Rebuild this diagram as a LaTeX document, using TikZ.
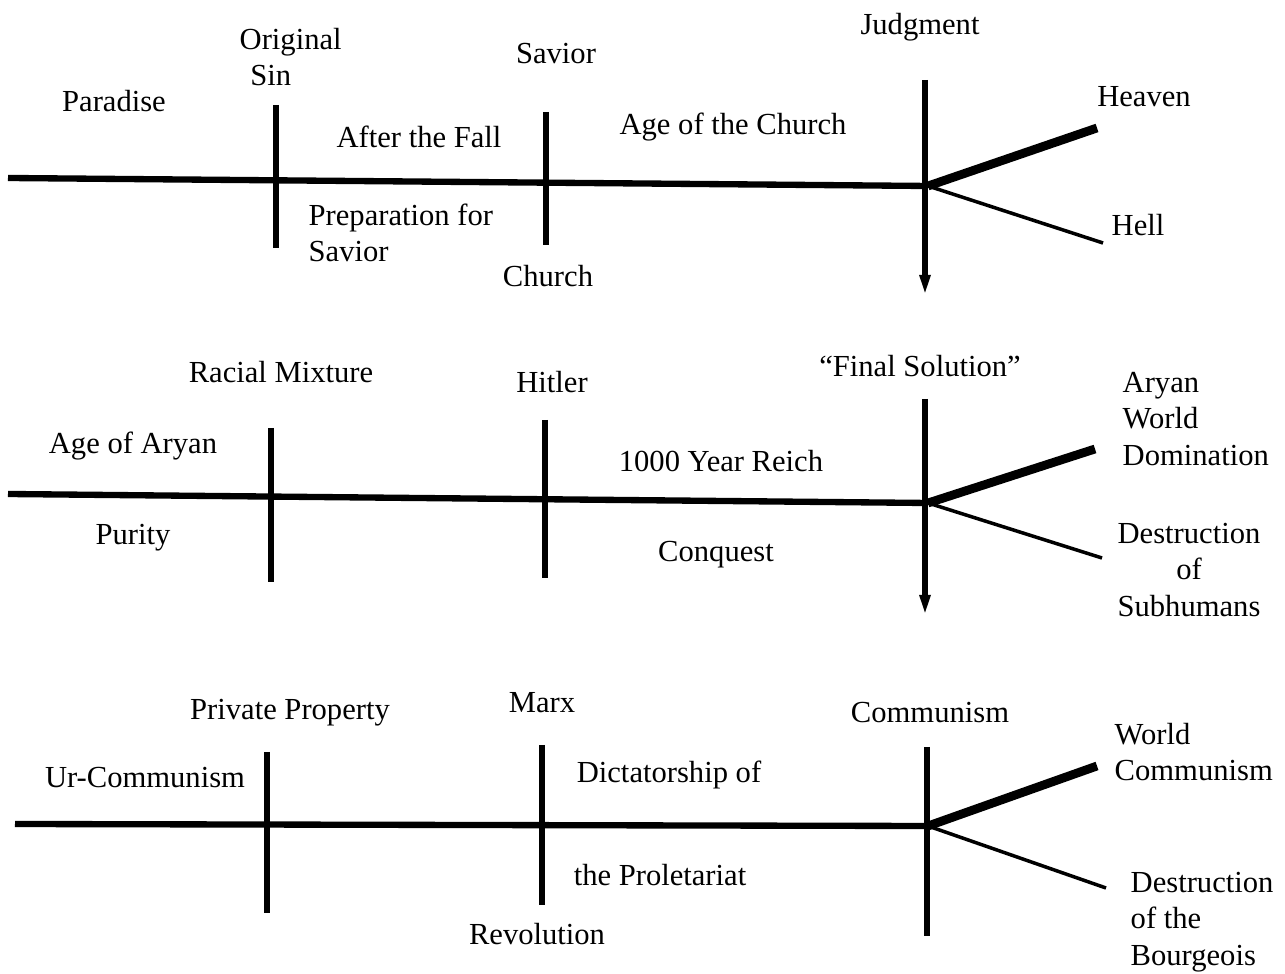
\documentclass[tikz,border=0pt]{standalone}
\usepackage{fontspec}
\setmainfont{Liberation Serif}
\usetikzlibrary{arrows.meta}
\begin{document}
\begin{tikzpicture}[x=0.01cm,y=-0.01cm,
        every node/.style={font=\fontsize{8.7}{10.4}\selectfont,inner sep=0pt},
        timeline/.style={line width=1.8pt},
        tick/.style={line width=1.5pt},
        judge/.style={line width=1.6pt,-{Triangle[length=6pt,width=2.8pt]}},
        good/.style={line width=2.5pt},
        bad/.style={line width=1pt}]
            \useasboundingbox (0,0) rectangle (1285,974);

            \coordinate (start1) at (8,178);
            \coordinate (fork1) at (928,186);
            \coordinate (sinT) at (276,105);
            \coordinate (sinB) at (276,248);
            \coordinate (savT) at (546,112);
            \coordinate (savB) at (546,245);
            \coordinate (judT) at (925,80);
            \coordinate (judB) at (925,296);
            \coordinate (heavenEnd) at (1097,128);
            \coordinate (hellEnd) at (1103,243);
            \draw[timeline] (start1) -- (fork1);
            \draw[tick] (sinT) -- (sinB);
            \draw[tick] (savT) -- (savB);
            \draw[judge] (judT) -- (judB);
            \draw[good] (fork1) -- (heavenEnd);
            \draw[bad] (fork1) -- (hellEnd);

            \node (paradise) at (114,101) {Paradise};
            \node[anchor=west,align=left] (sin) at (239,57) {Original\\\hspace{3pt}Sin};
            \node (savior) at (556,54) {Savior};
            \node (judgment) at (920,27) {Judgment};
            \node (fall) at (419,137) {After the Fall};
            \node (agechurch) at (733,127) {Age of the Church};
            \node (heaven) at (1144,97) {Heaven};
            \node[anchor=west,align=left] (prep) at (308,233) {Preparation for\\Savior};
            \node (church) at (548,276) {Church};
            \node (hell) at (1138,225) {Hell};

            \coordinate (start2) at (8,494);
            \coordinate (fork2) at (928,503);
            \coordinate (mixT) at (271,428);
            \coordinate (mixB) at (271,582);
            \coordinate (hitT) at (545,420);
            \coordinate (hitB) at (545,578);
            \coordinate (solT) at (925,399);
            \coordinate (solB) at (925,616);
            \coordinate (aryanEnd) at (1095,449);
            \coordinate (subEnd) at (1102,558);
            \draw[timeline] (start2) -- (fork2);
            \draw[tick] (mixT) -- (mixB);
            \draw[tick] (hitT) -- (hitB);
            \draw[judge] (solT) -- (solB);
            \draw[good] (fork2) -- (aryanEnd);
            \draw[bad] (fork2) -- (subEnd);

            \node (mixture) at (281,372) {Racial Mixture};
            \node (hitler) at (552,382) {Hitler};
            \node (solution) at (920,366) {``Final Solution''};
            \node (ageAryan) at (133,446) {Age of Aryan};
            \node (reich) at (721,461) {1000 Year Reich};
            \node (purity) at (133,538) {Purity};
            \node (conquest) at (716,555) {Conquest};
            \node[anchor=west,align=left] (domination) at (1122,419) {Aryan\\World\\Domination};
            \node[align=center] (subhumans) at (1189,570) {Destruction\\of\\Subhumans};

            \coordinate (start3) at (15,824);
            \coordinate (fork3) at (928,826);
            \coordinate (propT) at (267,752);
            \coordinate (propB) at (267,913);
            \coordinate (marxT) at (542,745);
            \coordinate (marxB) at (542,905);
            \coordinate (commT) at (927,747);
            \coordinate (commB) at (927,936);
            \coordinate (worldEnd) at (1097,766);
            \coordinate (bourgEnd) at (1106,888);
            \draw[timeline] (start3) -- (fork3);
            \draw[tick] (propT) -- (propB);
            \draw[tick] (marxT) -- (marxB);
            \draw[tick] (commT) -- (commB);
            \draw[good] (fork3) -- (worldEnd);
            \draw[bad] (fork3) -- (bourgEnd);

            \node (property) at (290,713) {Private Property};
            \node (marx) at (542,703) {Marx};
            \node (communism) at (930,713) {Communism};
            \node (urComm) at (145,778) {Ur-Communism};
            \node (dictatorship) at (669,775) {Dictatorship of};
            \node (proletariat) at (660,875) {the Proletariat};
            \node (revolution) at (537,934) {Revolution};
            \node[anchor=west,align=left] (worldComm) at (1114,752) {World\\Communism};
            \node[anchor=west,align=left] (bourgeois) at (1130,922) {Destruction\\of the\\Bourgeois};
        \end{tikzpicture}
\end{document}
